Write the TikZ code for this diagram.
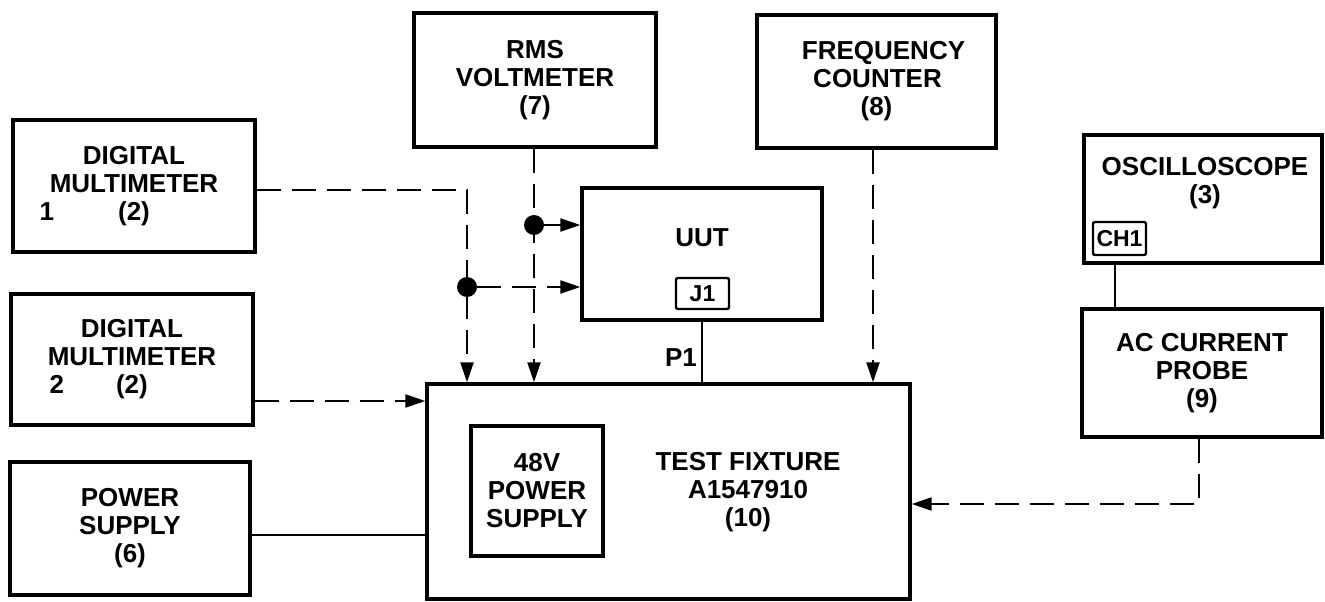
\documentclass[tikz,border=0pt]{standalone}
\usepackage{fontspec}
\setmainfont{Liberation Sans}
\usetikzlibrary{arrows.meta,calc}
\begin{document}
\begin{tikzpicture}[x=1pt,y=-1pt,
  box/.style={draw,line width=3.4pt,inner sep=0pt,align=center,
    font=\fontsize{26}{28}\selectfont\bfseries},
  smallbox/.style={draw,line width=2.4pt,rounded corners=2pt,inner sep=0pt,
    font=\fontsize{23}{24}\selectfont\bfseries},
  lbl/.style={inner sep=0pt,align=center,font=\fontsize{26}{28}\selectfont\bfseries},
  conn/.style={line width=2.2pt},
  dconn/.style={line width=2.2pt,dash pattern=on 24pt off 11pt},
  arr/.style={-{Triangle[length=20pt,width=13pt]}},
  dot/.style={circle,fill=black,inner sep=0pt,minimum size=20pt}]
\useasboundingbox (0,0) rectangle (1325,602);
% boxes
\node[box,minimum width=242pt,minimum height=132pt] (dmm1) at (134,186)
  {DIGITAL\\MULTIMETER\\\llap{1\hspace{64pt}}(2)};
\node[box,minimum width=242pt,minimum height=131pt] (dmm2) at (132,359.5)
  {DIGITAL\\MULTIMETER\\\llap{2\hspace{52pt}}(2)};
\node[box,minimum width=240pt,minimum height=133pt] (ps) at (130,528.5)
  {POWER\\SUPPLY\\(6)};
\node[box,minimum width=242pt,minimum height=134pt] (rms) at (535,80)
  {RMS\\VOLTMETER\\(7)};
\node[box,minimum width=239pt,minimum height=133pt] (fc) at (876.5,81.5)
  {\hspace*{14pt}FREQUENCY\\\hspace*{2pt}COUNTER\\(8)};
\node[box,minimum width=240pt,minimum height=132pt] (uut) at (702,254) {};
\node[lbl] (uuttext) at (702,238) {UUT};
\node[smallbox,minimum width=53pt,minimum height=31pt] (j1) at (702.5,293.5) {J1};
\node[box,minimum width=483pt,minimum height=215pt] (tf) at (668.5,491.5) {};
\node[lbl] (tftext) at (748,492) {TEST FIXTURE\\A1547910\\(10)};
\node[box,minimum width=132pt,minimum height=130pt] (v48) at (537,491)
  {48V\\POWER\\SUPPLY};
\node[box,minimum width=238pt,minimum height=128pt] (osc) at (1203,199) {};
\node[lbl] (osctext) at (1205,183) {OSCILLOSCOPE\\(3)};
\node[smallbox,minimum width=53pt,minimum height=33pt] (ch1) at (1119.5,238.5) {CH1};
\node[box,minimum width=240pt,minimum height=128pt] (ac) at (1202,373)
  {AC CURRENT\\PROBE\\(9)};
\node[lbl] (p1) at (681,358) {P1};
% junction points
\coordinate (c1) at (467,190);
\node[dot] (d1) at (467,287) {};
\node[dot] (d2) at (534,225) {};
\coordinate (rmsx) at (534,0);
\coordinate (fcx) at (873,0);
\coordinate (acx) at (1199,504);
% connectors
\draw[dconn,arr] (dmm1.east |- c1) -- (c1) -- (c1 |- tf.north);
\draw[dconn,arr] (d1) -- (d1 -| uut.west);
\draw[dconn,arr] (rmsx |- rms.south) -- (rmsx |- tf.north);
\draw[dconn,arr] (d2) -- (d2 -| uut.west);
\draw[dconn,arr] ($(dmm2.east)+(0,41.5)$) -- ($(dmm2.east -| tf.west)+(0,41.5)$);
\draw[conn] ($(ps.east)+(0,6.5)$) -- ($(ps.east -| tf.west)+(0,6.5)$);
\draw[conn] (uut.south) -- (uut.south |- tf.north);
\draw[dconn,arr] (fcx |- fc.south) -- (fcx |- tf.north);
\draw[conn] (1115,0 |- osc.south) -- (1115,0 |- ac.north);
\draw[dconn,arr] (acx |- ac.south) -- (acx) -- (acx -| tf.east);
\end{tikzpicture}
\end{document}
